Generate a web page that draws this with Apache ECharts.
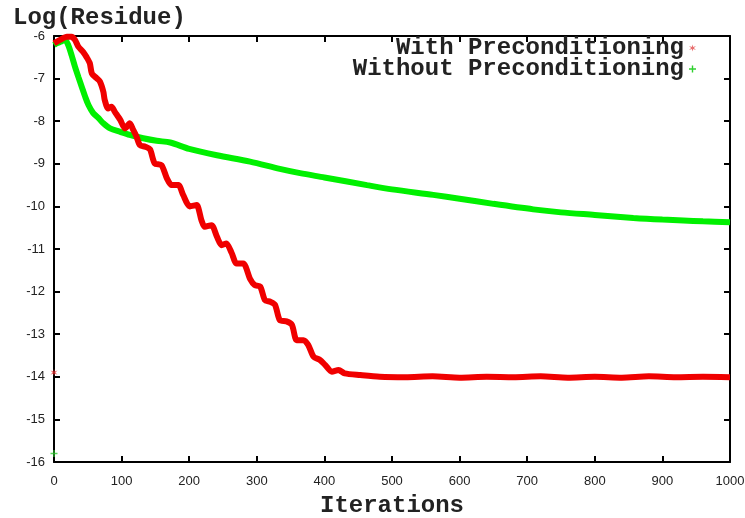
<!DOCTYPE html>
<html>
<head>
<meta charset="utf-8">
<script src="https://cdn.jsdelivr.net/npm/echarts@6/dist/echarts.min.js"></script>
<style>
  html, body { margin: 0; padding: 0; background: #fff; }
  #chart { width: 745px; height: 518px; }
</style>
</head>
<body>
<div id="chart"></div>
<script>
// values
var redIter = [0, 9, 19, 26, 31, 36, 43, 48, 53, 56, 63, 68, 73, 75, 80, 85, 90, 98, 105, 112, 117, 122, 127, 135,
  142, 149, 159, 167, 174, 184, 191, 201, 211, 218, 223, 233, 241, 248, 255, 263, 270, 280, 290, 297, 305, 312,
  320, 327, 334, 344, 352, 359, 369, 376, 384, 393, 401, 411, 421, 430, 453, 482, 520, 560, 600, 640, 680, 720,
  760, 800, 840, 880, 920, 960, 1000];
var redVal = [-6.17, -6.09, -6.02, -6.02, -6.09, -6.25, -6.37, -6.49, -6.64, -6.88, -6.99, -7.07, -7.31, -7.5, -7.7,
  -7.66, -7.78, -7.97, -8.17, -8.05, -8.2, -8.36, -8.56, -8.6, -8.66, -8.99, -9.03, -9.34, -9.5, -9.5, -9.73, -10.0,
  -9.97, -10.32, -10.48, -10.44, -10.71, -10.91, -10.87, -11.1, -11.34, -11.34, -11.7, -11.85, -11.88, -12.2, -12.24,
  -12.31, -12.67, -12.7, -12.78, -13.14, -13.14, -13.25, -13.53, -13.6, -13.72, -13.88, -13.84, -13.92, -13.96, -14.0,
  -14.01, -13.99, -14.02, -14.0, -14.01, -13.99, -14.02, -14.0, -14.02, -13.99, -14.01, -14.0, -14.01];
var greenIter = [0, 4, 11, 16, 21, 26, 31, 36, 41, 46, 51, 58, 66, 73, 83, 98, 112, 132, 152, 172, 200, 241, 290,
  334, 364, 400, 463, 500, 561, 600, 650, 709, 750, 800, 857, 900, 931, 960, 1000];
var greenVal = [-6.21, -6.17, -6.13, -6.09, -6.21, -6.45, -6.72, -6.96, -7.19, -7.42, -7.62, -7.81, -7.93, -8.05,
  -8.17, -8.25, -8.32, -8.4, -8.46, -8.5, -8.65, -8.8, -8.95, -9.12, -9.22, -9.32, -9.5, -9.6, -9.73, -9.82, -9.94,
  -10.07, -10.14, -10.2, -10.27, -10.31, -10.33, -10.35, -10.37];
// stray first points drawn on the y axis
var redStray = [[0, -13.9]];
var greenStray = [[0, -15.8]];

var seriesNames = ['With Preconditioning', 'Without Preconditioning'];
var monoFont = 'Liberation Mono';
var tickFont = 'Liberation Sans';

function zip(xs, ys) {
  var out = [];
  for (var i = 0; i < xs.length; i++) out.push([xs[i], ys[i]]);
  return out;
}

var chart = echarts.init(document.getElementById('chart'));

var plusIcon = 'path://M4,0L6,0L6,4L10,4L10,6L6,6L6,10L4,10L4,6L0,6L0,4L4,4Z';
var starIcon = 'path://M5,0L6,3.5L10,2L7,5L10,8L6,6.5L5,10L4,6.5L0,8L3,5L0,2L4,3.5Z';

var axisBase = {
  type: 'value',
  axisLine: { show: true, onZero: false, lineStyle: { color: '#000', width: 2 } },
  axisTick: { show: true, inside: true, length: 6, lineStyle: { color: '#000', width: 2 } },
  splitLine: { show: false }
};

var option = {
  animation: false,
  backgroundColor: '#fff',
  title: {
    text: 'Log(Residue)',
    left: 8,
    top: 1,
    textStyle: { fontFamily: monoFont, fontWeight: 'bold', fontSize: 24, color: '#222' }
  },
  legend: {
    orient: 'vertical',
    right: 44,
    top: 31,
    align: 'right',
    itemGap: -3,
    itemWidth: 7,
    itemHeight: 7,
    textStyle: { fontFamily: monoFont, fontWeight: 'bold', fontSize: 24, color: '#222' },
    data: [
      { name: seriesNames[0], icon: starIcon, itemStyle: { color: '#e87070' } },
      { name: seriesNames[1], icon: plusIcon, itemStyle: { color: '#30d030' } }
    ]
  },
  grid: { left: 54, right: 15, top: 36, bottom: 56, outerBoundsMode: 'none' },
  xAxis: [
    Object.assign({}, axisBase, {
      min: 0, max: 1000, interval: 100,
      position: 'bottom',
      name: 'Iterations',
      nameLocation: 'middle',
      nameGap: 32,
      nameTextStyle: { fontFamily: monoFont, fontWeight: 'bold', fontSize: 24, color: '#222' },
      axisLabel: {
        margin: 13, fontFamily: tickFont, fontSize: 13, color: '#222',
        formatter: function (v) { return String(v); }
      }
    }),
    Object.assign({}, axisBase, {
      min: 0, max: 1000, interval: 100,
      position: 'top',
      axisLabel: { show: false }
    })
  ],
  yAxis: [
    Object.assign({}, axisBase, {
      min: -16, max: -6, interval: 1,
      position: 'left',
      axisLabel: { margin: 9, fontFamily: tickFont, fontSize: 13, color: '#222' }
    }),
    Object.assign({}, axisBase, {
      min: -16, max: -6, interval: 1,
      position: 'right',
      axisLabel: { show: false }
    })
  ],
  series: [
    {
      name: seriesNames[1],
      type: 'line',
      data: zip(greenIter, greenVal),
      showSymbol: false,
      smooth: 0.3,
      lineStyle: { color: '#00f000', width: 6 },
      itemStyle: { color: '#00f000' },
      z: 2
    },
    {
      name: seriesNames[0],
      type: 'line',
      data: zip(redIter, redVal),
      showSymbol: false,
      smooth: 0.25,
      lineStyle: { color: '#f00000', width: 6 },
      itemStyle: { color: '#f00000' },
      z: 3
    },
    {
      name: seriesNames[0],
      type: 'scatter',
      data: redStray,
      clip: false,
      symbol: starIcon,
      symbolSize: 7,
      itemStyle: { color: '#e83030' }
    },
    {
      name: seriesNames[1],
      type: 'scatter',
      data: greenStray,
      clip: false,
      symbol: plusIcon,
      symbolSize: 7,
      itemStyle: { color: '#30d030' }
    }
  ]
};

chart.setOption(option);
</script>
</body>
</html>
